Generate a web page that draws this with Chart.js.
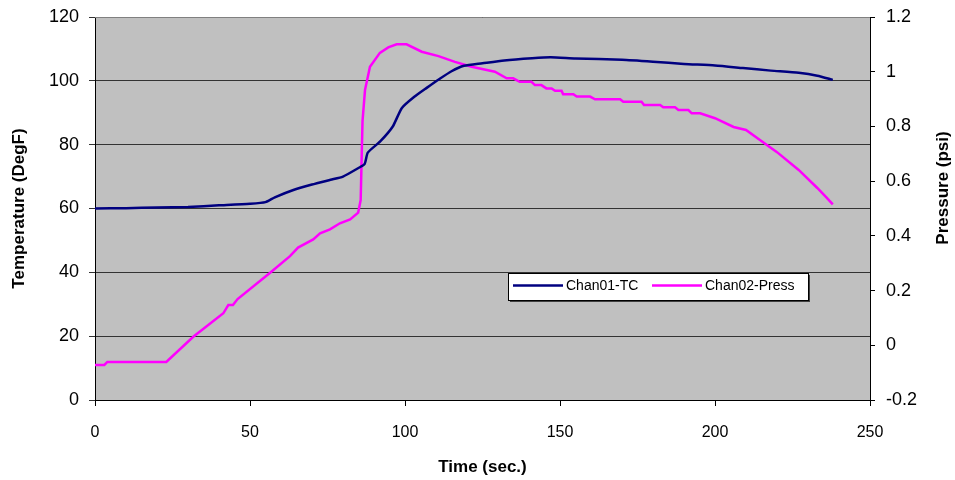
<!DOCTYPE html>
<html>
<head>
<meta charset="utf-8">
<script src="https://cdn.jsdelivr.net/npm/chart.js@4/dist/chart.umd.min.js"></script>
<style>
  html, body { margin: 0; padding: 0; background: #fff; }
  #wrap { width: 955px; height: 480px; position: relative; }
</style>
</head>
<body>
<div id="wrap"><canvas id="tempChart"></canvas></div>
<script>
// ---- data ----
const tempTime = [0, 10, 20, 30, 40, 50, 55, 58, 64, 70, 76, 80, 85, 87, 88, 92, 96, 99, 103, 107, 111, 115, 119, 125, 132, 141, 147, 155, 170, 180, 190, 200, 209, 218, 227, 233, 238];
const tempVals = [60, 60.1, 60.3, 60.5, 61, 61.5, 62, 63.5, 65.8, 67.5, 69, 70, 72.7, 74, 77.5, 81, 85.6, 91.5, 95, 97.8, 100.5, 103, 104.7, 105.5, 106.4, 107.1, 107.4, 107, 106.6, 106, 105.3, 104.8, 104, 103.2, 102.5, 101.6, 100.3];

const pressTime = [0, 3, 4, 23, 31.7, 41.4, 43, 44.5, 46, 56.5, 62.9, 65.5, 70.4, 72.6, 75.8, 79, 82.3, 84.9, 85.7, 86.3, 87.1, 88.7, 91.9, 94.6, 97.3, 100.5, 105.4, 110.8, 116.1, 121.5, 129,
  132.8, 134.9, 137, 140.8, 141.9, 144, 145.6, 147.3, 148.4, 150.5, 151, 154.3, 155.4, 159.7, 161.3, 169.4, 170.4, 176.3, 177.1, 182.3, 183.3, 187.1, 188.2, 191.4, 192.5, 195.2,
  200, 206, 210, 214.5, 220, 227, 233, 236, 238];
const pressVals = [-0.072, -0.072, -0.061, -0.061, 0.031, 0.117, 0.147, 0.147, 0.169, 0.265, 0.326, 0.357, 0.387, 0.409, 0.424, 0.446, 0.46, 0.485, 0.531, 0.82, 0.933, 1.018, 1.069, 1.089, 1.10, 1.10, 1.073, 1.057, 1.036, 1.018, 1.0,
  0.976, 0.976, 0.963, 0.963, 0.951, 0.951, 0.939, 0.939, 0.930, 0.930, 0.918, 0.918, 0.909, 0.909, 0.899, 0.899, 0.890, 0.890, 0.878, 0.878, 0.870, 0.870, 0.860, 0.860, 0.848, 0.848,
  0.83, 0.798, 0.787, 0.75, 0.706, 0.641, 0.575, 0.54, 0.515];

const seriesNames = ['Chan01-TC', 'Chan02-Press'];
const seriesColors = ['#000080', '#FF00FF'];
const axisTitles = { x: 'Time (sec.)', y: 'Temperature (DegF)', y1: 'Pressure (psi)' };

const FONT = '"Liberation Sans", Arial, sans-serif';

// grey plot area, frame, axis titles and the boxed legend (Excel look)
const excelLook = {
  id: 'excelLook',
  beforeDraw(chart) {
    const { ctx, chartArea: a } = chart;
    ctx.save();
    ctx.fillStyle = '#C0C0C0';
    ctx.fillRect(a.left, a.top, a.right - a.left, a.bottom - a.top);
    ctx.restore();
  },
  afterDraw(chart) {
    const { ctx, chartArea: a } = chart;
    ctx.save();
    ctx.strokeStyle = '#808080';
    ctx.lineWidth = 1;
    ctx.beginPath();
    ctx.moveTo(a.left, a.top + 0.5);
    ctx.lineTo(a.right, a.top + 0.5);
    ctx.stroke();

    // axis titles
    ctx.fillStyle = '#000';
    ctx.font = 'bold 17px ' + FONT;
    ctx.textAlign = 'center';
    ctx.textBaseline = 'middle';
    ctx.fillText(axisTitles.x, (a.left + a.right) / 2, 467);

    ctx.save();
    ctx.translate(19, (a.top + a.bottom) / 2);
    ctx.rotate(-Math.PI / 2);
    ctx.fillText(axisTitles.y, 0, 0);
    ctx.restore();

    ctx.save();
    ctx.translate(943, 188);
    ctx.rotate(-Math.PI / 2);
    ctx.fillText(axisTitles.y1, 0, 0);
    ctx.restore();

    // legend box
    const lx = a.left + 413, ly = a.top + 256, lw = 300, lh = 27;
    ctx.fillStyle = '#404040';
    ctx.fillRect(lx + 2, ly + 2, lw, lh);
    ctx.fillStyle = '#fff';
    ctx.fillRect(lx, ly, lw, lh);
    ctx.strokeStyle = '#000';
    ctx.strokeRect(lx + 0.5, ly + 0.5, lw, lh);

    ctx.font = '14px ' + FONT;
    ctx.textAlign = 'left';
    const offsets = [5, 144];
    chart.data.datasets.forEach((ds, i) => {
      const sx = lx + offsets[i];
      const sy = ly + 12.5;
      ctx.strokeStyle = ds.borderColor;
      ctx.lineWidth = 2.5;
      ctx.beginPath();
      ctx.moveTo(sx, sy);
      ctx.lineTo(sx + 50, sy);
      ctx.stroke();
      ctx.fillStyle = '#000';
      ctx.fillText(ds.label, sx + 53, sy + 1);
    });
    ctx.restore();
  }
};

new Chart(document.getElementById('tempChart'), {
  type: 'line',
  data: {
    datasets: [
      {
        label: seriesNames[0],
        data: tempTime.map((t, i) => ({ x: t, y: tempVals[i] })),
        borderColor: seriesColors[0], backgroundColor: seriesColors[0],
        borderWidth: 2.5, pointRadius: 0, tension: 0.2, yAxisID: 'y',
      },
      {
        label: seriesNames[1],
        data: pressTime.map((t, i) => ({ x: t, y: pressVals[i] })),
        borderColor: seriesColors[1], backgroundColor: seriesColors[1],
        borderWidth: 2.5, pointRadius: 0, tension: 0, yAxisID: 'y1',
      },
    ]
  },
  options: {
    responsive: true, maintainAspectRatio: false, animation: false,
    layout: { padding: { top: 17, left: 0, right: 0, bottom: 0 } },
    plugins: { legend: { display: false }, tooltip: { enabled: false } },
    scales: {
      x: {
        type: 'linear', min: 0, max: 250,
        ticks: { stepSize: 50, color: '#000', font: { family: FONT, size: 16 }, padding: 17, maxRotation: 0 },
        grid: { drawOnChartArea: false, color: '#000', tickLength: 6 },
        border: { color: '#000', width: 1 },
        afterFit: s => { s.height = 80; }
      },
      y: {
        position: 'left', min: 0, max: 120,
        ticks: { stepSize: 20, color: '#000', font: { family: FONT, size: 18, lineHeight: 0.5 }, padding: 10 },
        grid: { color: '#333', tickLength: 6 },
        border: { color: '#000', width: 1 },
        afterFit: s => { s.width = 95; }
      },
      y1: {
        position: 'right', min: -0.2, max: 1.2,
        ticks: {
          stepSize: 0.2, color: '#000', font: { family: FONT, size: 18, lineHeight: 0.5 }, padding: 11,
          callback: v => String(Number(v.toFixed(1)))
        },
        grid: { drawOnChartArea: false, color: '#000', tickLength: 5 },
        border: { color: '#000', width: 1 },
        afterFit: s => { s.width = 85; }
      }
    }
  },
  plugins: [excelLook]
});
</script>
</body>
</html>
